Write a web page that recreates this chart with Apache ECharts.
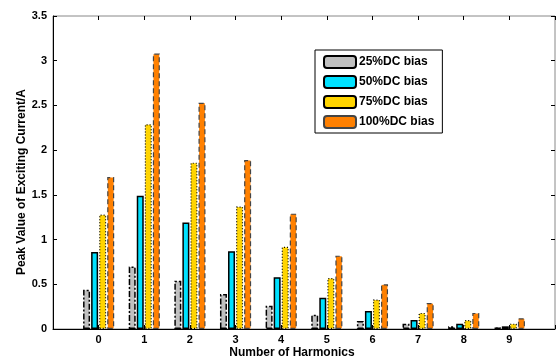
<!DOCTYPE html>
<html><head><meta charset="utf-8">
<script src="https://cdn.jsdelivr.net/npm/echarts@6/dist/echarts.min.js"></script>
<style>html,body{margin:0;padding:0;background:#fff}#c{width:560px;height:361px}</style>
</head><body><div id="c"></div>
<script>
var harmonics = [0,1,2,3,4,5,6,7,8,9];
var bias25  = [0.44,0.70,0.54,0.39,0.26,0.16,0.09,0.06,0.03,0.02];
var bias50  = [0.86,1.49,1.19,0.87,0.58,0.35,0.20,0.10,0.06,0.03];
var bias75  = [1.28,2.29,1.86,1.37,0.92,0.57,0.33,0.18,0.10,0.06];
var bias100 = [1.70,3.08,2.53,1.89,1.29,0.82,0.50,0.29,0.18,0.12];
var seriesNames = ['25%DC bias','50%DC bias','75%DC bias','100%DC bias'];
var yTicks = [0,0.5,1,1.5,2,2.5,3,3.5];
var xTitle = 'Number of Harmonics';
var yTitle = 'Peak Value of Exciting Current/A';

var chart = echarts.init(document.getElementById('c'), null, {renderer:'canvas'});
function pairs(arr){ return harmonics.map(function(h,i){ return [h, arr[i]]; }); }
var styles = [
  {color:'#c0c0c0', borderColor:'#000', borderWidth:1.5, borderType:[6,2,2,2]},
  {color:'#00e1ff', borderColor:'#000', borderWidth:1.5, borderType:'solid'},
  {color:'#ffd400', borderColor:'#000', borderWidth:1.2, borderType:[1,2]},
  {color:'#ff8000', borderColor:'#444', borderWidth:1.2, borderType:[5,3]}
];
var datasets = [bias25,bias50,bias75,bias100];
var labelFont = {fontFamily:'Liberation Sans', fontWeight:'bold', fontSize:11, color:'#000'};
function hiddenAxisBase(extra){
  return Object.assign({
    axisLine:{show:false, onZero:false},
    axisTick:{show:true, inside:true, length:4, lineStyle:{color:'#000'}},
    axisLabel:{show:false}, splitLine:{show:false}
  }, extra);
}
chart.setOption({
  animation:false,
  grid:{left:53, right:5, top:16, bottom:32, show:true, borderColor:'#888', borderWidth:1, backgroundColor:'#fff'},
  legend:{
    left:315, top:50, orient:'vertical', itemWidth:32, itemHeight:12, itemGap:6,
    padding:[5,8,4,8], borderColor:'#000', borderWidth:1, backgroundColor:'#fff',
    textStyle:{fontFamily:'Liberation Sans', fontWeight:'bold', fontSize:12, color:'#000', padding:[0,0,0,-2]},
    data: seriesNames
  },
  graphic:[
    {type:'text', position:[292,353], silent:true, z:10,
     style:{text:xTitle, x:0, y:0, textAlign:'center', textVerticalAlign:'middle', font:'bold 12px "Liberation Sans"', fill:'#000'}},
    {type:'text', position:[22,182], rotation:Math.PI/2, silent:true, z:10,
     style:{text:yTitle, x:0, y:0, textAlign:'center', textVerticalAlign:'middle', font:'bold 12px "Liberation Sans"', fill:'#000'}}
  ],
  xAxis:[{
    type:'value', min:-1, max:10, interval:1,
    axisLine:{show:true, onZero:false, lineStyle:{color:'#000'}},
    axisTick:{show:true, inside:true, length:4, lineStyle:{color:'#000'}},
    axisLabel:Object.assign({margin:5, formatter:function(v){ return (v>=0 && v<=9) ? String(v) : ''; }}, labelFont),
    splitLine:{show:false}
  }, hiddenAxisBase({type:'value', position:'top', min:-1, max:10, interval:1})],
  yAxis:[{
    type:'value', min:0, max:3.5, interval:0.5,
    axisLine:{show:true, onZero:false, lineStyle:{color:'#000'}},
    axisTick:{show:true, inside:true, length:4, lineStyle:{color:'#000'}},
    axisLabel:Object.assign({margin:6, formatter:function(v){ return yTicks.indexOf(v)>=0 ? String(v) : ''; }}, labelFont),
    splitLine:{show:false}
  }, hiddenAxisBase({type:'value', position:'right', min:0, max:3.5, interval:0.5})],
  series: datasets.map(function(d,i){
    return {name:seriesNames[i], type:'bar', data:pairs(d), barWidth:7, barGap:'15%', itemStyle:styles[i]};
  })
});
</script></body></html>
